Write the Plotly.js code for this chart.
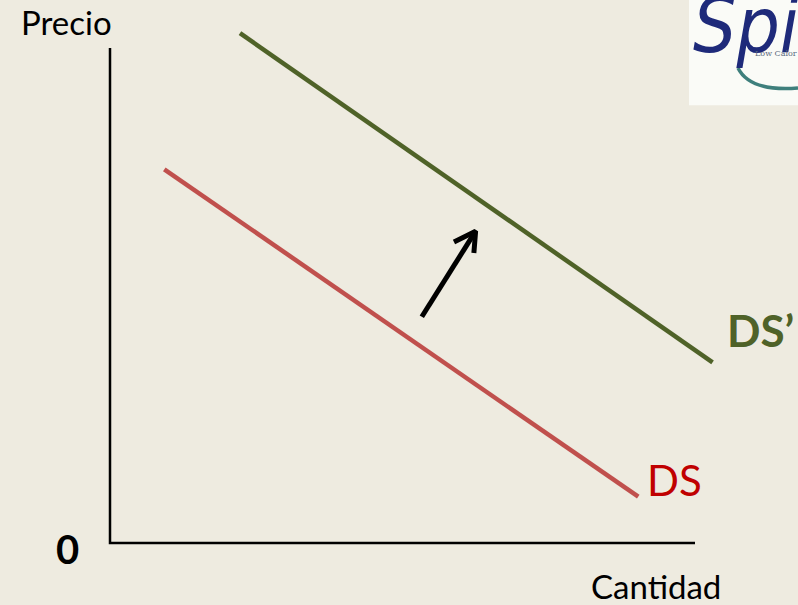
<!DOCTYPE html>
<html>
<head>
<meta charset="utf-8">
<script src="https://cdn.plot.ly/plotly-3.0.1.min.js"></script>
<style>html,body{margin:0;padding:0;background:#EEEBE0;}</style>
</head>
<body>
<div id="chart" style="width:798px;height:605px;"></div>
<script>
// Data (quantity / price units)
const axisX = [0, 0, 10];
const axisY = [10, 0, 0];
const dsX = [0.928, 9.03];
const dsY = [7.55, 0.935];
const ds2X = [2.222, 10.30];
const ds2Y = [10.30, 3.65];
const arrowX = [5.33, 6.25, null, 5.88, 6.25, 6.22];
const arrowY = [4.57, 6.30, null, 6.08, 6.30, 5.86];
const labels = {
  price: 'Precio', qty: 'Cantidad', zero: '0', ds: 'DS', ds2: 'DS\u2019'
};

const traces = [
  {x: axisX, y: axisY, mode: 'lines', line: {color: '#000000', width: 2.5}, hoverinfo: 'skip'},
  {x: dsX, y: dsY, mode: 'lines', line: {color: '#C0504D', width: 4.5}, hoverinfo: 'skip'},
  {x: ds2X, y: ds2Y, mode: 'lines', line: {color: '#4F6228', width: 4.5}, hoverinfo: 'skip'},
  {x: arrowX, y: arrowY, mode: 'lines', line: {color: '#000000', width: 5}, connectgaps: false, hoverinfo: 'skip'}
];

const font = 'Lato, "Open Sans", sans-serif';
const layout = {
  width: 798, height: 605,
  margin: {l: 0, r: 0, t: 0, b: 0},
  paper_bgcolor: '#EEEBE0', plot_bgcolor: '#EEEBE0',
  showlegend: false,
  xaxis: {range: [-1.8803, 11.7607], visible: false, fixedrange: true},
  yaxis: {range: [-1.2525, 10.9697], visible: false, fixedrange: true},
  shapes: [
    {type: 'rect', xref: 'paper', yref: 'paper', x0: 0.8634, x1: 1.0, y0: 0.826, y1: 1.0,
     fillcolor: '#FAFBF7', line: {width: 0}, layer: 'below'},
    {type: 'path', xref: 'paper', yref: 'paper',
     path: 'M 0.9248 0.8876 Q 0.9398 0.848 1.0 0.8545', line: {color: '#3E7F7C', width: 3.5}}
  ],
  annotations: [
    {x: -0.752, y: 10.52, text: labels.price, showarrow: false, xanchor: 'center', yanchor: 'middle',
     font: {family: font, size: 33, color: '#000000'}},
    {x: 9.333, y: -0.86, text: labels.qty, showarrow: false, xanchor: 'center', yanchor: 'middle',
     font: {family: font, size: 33, color: '#000000'}},
    {x: -0.735, y: -0.121, text: labels.zero, showarrow: false, xanchor: 'center', yanchor: 'middle',
     font: {family: font, size: 40, color: '#000000', weight: 'bold'}},
    {x: 9.641, y: 1.273, text: labels.ds, showarrow: false, xanchor: 'center', yanchor: 'middle',
     font: {family: font, size: 42, color: '#C00000'}},
    {x: 11.128, y: 4.303, text: labels.ds2, showarrow: false, xanchor: 'center', yanchor: 'middle',
     font: {family: font, size: 44, color: '#4F6228', weight: 'bold'}},
    {xref: 'paper', yref: 'paper', x: 0.866, y: 1.035, text: 'Spic', showarrow: false,
     xanchor: 'left', yanchor: 'top',
     font: {family: '"Liberation Sans Narrow", "DejaVu Sans Condensed", sans-serif', size: 76, color: '#1E2A7A', style: 'italic'}},
    {xref: 'paper', yref: 'paper', x: 0.943, y: 0.912, text: 'Low Calor', showarrow: false,
     xanchor: 'left', yanchor: 'middle',
     font: {family: '"DejaVu Serif", serif', size: 8, color: '#5A6A80'}}
  ]
};

Plotly.newPlot('chart', traces, layout, {displayModeBar: false, staticPlot: true});
</script>
</body>
</html>
